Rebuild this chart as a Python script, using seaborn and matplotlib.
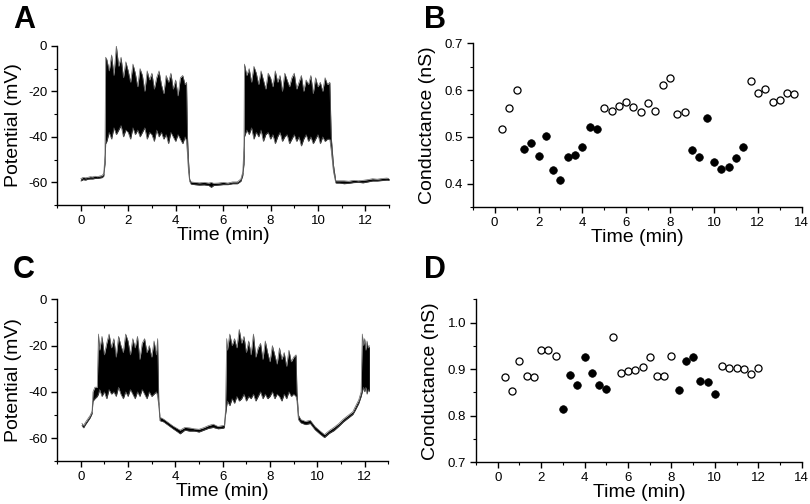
import matplotlib
matplotlib.use("Agg")
import pandas as pd
import seaborn as sns
import matplotlib.pyplot as plt
from matplotlib.ticker import MultipleLocator

# ---- panel A : membrane potential trace (upper / lower envelope) ----
a_time = ([0.00, 0.10, 0.20, 0.30, 0.40, 0.50, 0.60, 0.70, 0.80, 0.90, 0.97, 1.02, 1.05]
          + [1.10, 1.20, 1.30, 1.40, 1.50, 1.60, 1.70, 1.80, 1.90, 2.00, 2.10, 2.20,
             2.30, 2.40, 2.50, 2.60, 2.70, 2.80, 2.90, 3.00, 3.10, 3.20, 3.30, 3.40,
             3.50, 3.60, 3.70, 3.80, 3.90, 4.00, 4.10, 4.20, 4.30, 4.40]
          + [4.46, 4.50, 4.54, 4.59, 4.65, 4.80, 5.00, 5.20, 5.40, 5.50, 5.60, 5.80,
             6.00, 6.20, 6.40, 6.60, 6.75, 6.83, 6.88]
          + [6.90, 7.00, 7.10, 7.20, 7.30, 7.40, 7.50, 7.60, 7.70, 7.80, 7.90, 8.00,
             8.10, 8.20, 8.30, 8.40, 8.50, 8.60, 8.70, 8.80, 8.90, 9.00, 9.10, 9.20,
             9.30, 9.40, 9.50, 9.60, 9.70, 9.80, 9.90, 10.00, 10.10, 10.20, 10.30,
             10.40, 10.50]
          + [10.56, 10.65, 10.75, 10.90, 11.10, 11.30, 11.50, 11.70, 11.90, 12.10,
             12.30, 12.50, 12.70, 12.90, 13.00])
a_upper = ([-58.4, -57.8, -58.0, -57.8, -57.5, -57.6, -57.3, -57.5, -57.2, -57.0, -56.0, -48.0, -5.0]
           + [-6, -11, -4, -13, 0, -9, -5, -14, -7, -11, -16, -8, -12, -18, -10, -13, -20,
              -11, -15, -12, -19, -14, -11, -17, -21, -13, -16, -12, -19, -15, -22, -14, -13, -17]
           + [-16, -40, -50, -58.5, -59.8, -60.0, -60.2, -60.0, -60.3, -60.0, -60.4, -60.3,
              -60.0, -60.3, -59.8, -59.8, -58.5, -55.5, -44.0]
           + [-8, -13, -10, -16, -9, -12, -17, -11, -15, -19, -12, -14, -18, -11, -16, -13,
              -20, -12, -15, -18, -14, -12, -19, -16, -13, -20, -15, -17, -13, -21, -14, -18,
              -16, -20, -14, -17, -16]
           + [-40, -52, -59.3, -59.3, -59.3, -59.5, -59.1, -59.3, -59.1, -58.8, -58.4, -58.6,
              -58.3, -58.1, -58.3])
a_lower = ([-59.4, -58.8, -59.0, -58.6, -58.5, -58.5, -58.3, -58.3, -58.1, -57.9, -57.2, -52.0, -43.0]
           + [-42, -38, -41, -36, -39, -37, -35, -40, -37, -38, -41, -36, -39, -37, -40, -38, -36,
              -41, -38, -39, -42, -37, -40, -38, -41, -39, -43, -38, -40, -42, -39, -41, -43, -40]
           + [-42, -48, -55, -59.5, -60.8, -61.0, -61.2, -61.1, -61.4, -62.2, -61.4, -61.2,
              -61.0, -61.0, -60.6, -60.6, -59.5, -57.0, -52.0]
           + [-40, -37, -39, -36, -41, -38, -40, -37, -42, -39, -38, -41, -39, -43, -40, -38,
              -42, -40, -39, -43, -41, -39, -42, -40, -44, -41, -39, -42, -40, -43, -41, -39,
              -43, -40, -42, -41, -41]
           + [-46, -55, -60.3, -60.3, -60.6, -60.4, -60.1, -60.0, -60.2, -59.8, -59.4, -59.4,
              -59.2, -59.0, -59.1])

# ---- panel C : membrane potential trace ----
c_time = ([0.05, 0.12, 0.20, 0.30, 0.40, 0.48, 0.52, 0.60, 0.70, 0.75]
          + [0.80, 0.90, 1.00, 1.10, 1.20, 1.30, 1.40, 1.50, 1.60, 1.70, 1.80, 1.90,
             2.00, 2.10, 2.20, 2.30, 2.40, 2.50, 2.60, 2.70, 2.80, 2.90, 3.00, 3.10, 3.20]
          + [3.25, 3.30, 3.35, 3.50, 3.70, 3.90, 4.10, 4.20, 4.40, 4.60, 4.80, 5.00,
             5.20, 5.40, 5.60, 5.80, 6.00, 6.07, 6.12, 6.17]
          + [6.20, 6.30, 6.40, 6.50, 6.60, 6.70, 6.80, 6.90, 7.00, 7.10, 7.20, 7.30,
             7.40, 7.50, 7.60, 7.70, 7.80, 7.90, 8.00, 8.10, 8.20, 8.30, 8.40, 8.50,
             8.60, 8.70, 8.80, 8.90, 9.00, 9.10]
          + [9.14, 9.20, 9.30, 9.50, 9.70, 9.90, 10.10, 10.30, 10.50, 10.70, 10.90,
             11.10, 11.30, 11.50, 11.60, 11.75, 11.85]
          + [11.90, 11.95, 12.00, 12.05, 12.10, 12.15, 12.20])
c_upper = ([-53.6, -54.6, -53.2, -51.7, -50.2, -48.4, -40, -38, -38, -15]
           + [-22, -16, -24, -19, -15, -21, -17, -25, -16, -20, -23, -15, -18, -24, -17, -21,
              -16, -26, -19, -17, -23, -20, -25, -18, -24]
           + [-17, -44, -51, -51.8, -53.3, -54.8, -56.0, -56.6, -55.4, -55.6, -56.0, -56.2,
              -55.5, -54.6, -54.0, -55.0, -54.6, -54.5, -48.0, -17]
           + [-22, -15, -20, -17, -21, -13, -19, -16, -23, -18, -24, -15, -25, -21, -19, -26,
              -18, -23, -27, -20, -24, -28, -21, -26, -23, -29, -22, -27, -25, -24]
           + [-40, -50, -52, -52.8, -52.3, -55, -56.8, -58.5, -56.8, -55.4, -53.8, -51.8,
              -50.2, -48.6, -46.5, -43.5, -40]
           + [-15, -20, -17, -22, -18, -21, -20])
c_lower = ([-54.6, -55.6, -54.2, -52.7, -51.2, -49.4, -44, -43, -42, -41]
           + [-39, -42, -40, -43, -39, -41, -40, -42, -38, -41, -43, -40, -42, -39, -41, -43,
              -40, -42, -39, -41, -43, -40, -42, -41, -40]
           + [-42, -46, -52.5, -53.0, -54.5, -56.0, -57.4, -58.2, -56.6, -57.0, -57.0, -57.4,
              -56.6, -55.8, -55.4, -56.0, -55.8, -55.5, -50.0, -46]
           + [-44, -46, -43, -45, -42, -44, -43, -41, -44, -42, -43, -41, -44, -42, -40, -43,
              -41, -43, -42, -40, -43, -41, -42, -44, -41, -43, -40, -42, -41, -42]
           + [-44, -52, -53.4, -54.2, -53.7, -56.4, -58.2, -59.8, -58.0, -56.8, -55.0, -53.0,
              -51.4, -49.8, -48.0, -45.0, -42.0]
           + [-40, -38, -40, -38, -41, -39, -40])

# ---- panel B : conductance ----
b_open_t = [0.33, 0.67, 1.0, 5.0, 5.33, 5.67, 6.0, 6.33, 6.67, 7.0, 7.33, 7.67, 8.0,
            8.33, 8.67, 11.67, 12.0, 12.33, 12.67, 13.0, 13.33, 13.67]
b_open_g = [0.518, 0.562, 0.600, 0.562, 0.555, 0.566, 0.574, 0.564, 0.554, 0.572, 0.556,
            0.611, 0.625, 0.548, 0.554, 0.619, 0.593, 0.603, 0.574, 0.579, 0.593, 0.592]
b_fill_t = [1.33, 1.67, 2.0, 2.33, 2.67, 3.0, 3.33, 3.67, 4.0, 4.33, 4.67,
            9.0, 9.33, 9.67, 10.0, 10.33, 10.67, 11.0, 11.33]
b_fill_g = [0.475, 0.486, 0.460, 0.503, 0.429, 0.408, 0.457, 0.462, 0.479, 0.522, 0.517,
            0.472, 0.457, 0.541, 0.447, 0.432, 0.435, 0.455, 0.479]

# ---- panel D : conductance ----
d_open_t = [0.33, 0.67, 1.0, 1.33, 1.67, 2.0, 2.33, 2.67, 5.33, 5.67, 6.0, 6.33, 6.67,
            7.0, 7.33, 7.67, 8.0, 10.33, 10.67, 11.0, 11.33, 11.67, 12.0]
d_open_g = [0.884, 0.854, 0.918, 0.885, 0.883, 0.941, 0.941, 0.929, 0.969, 0.891, 0.896,
            0.898, 0.905, 0.926, 0.885, 0.886, 0.929, 0.907, 0.903, 0.903, 0.900, 0.890, 0.903]
d_fill_t = [3.0, 3.33, 3.67, 4.0, 4.33, 4.67, 5.0, 8.33, 8.67, 9.0, 9.33, 9.67, 10.0]
d_fill_g = [0.815, 0.888, 0.865, 0.926, 0.891, 0.866, 0.858, 0.855, 0.918, 0.926, 0.875,
            0.872, 0.847]

sns.set_style("ticks")
plt.rcParams['font.family'] = ['Liberation Sans', 'DejaVu Sans']
plt.rcParams.update({'axes.linewidth': 1.0, 'axes.edgecolor': 'black', 'text.color': 'black',
                     'axes.labelcolor': 'black', 'xtick.color': 'black', 'ytick.color': 'black'})

fig = plt.figure(figsize=(8.1, 5.04), dpi=100)
axA = fig.add_axes([0.0704, 0.593, 0.410, 0.316])
axB = fig.add_axes([0.5836, 0.589, 0.4062, 0.325])
axC = fig.add_axes([0.0704, 0.085, 0.409, 0.321])
axD = fig.add_axes([0.5877, 0.083, 0.4021, 0.323])


def trace(ax, t, up, lo):
    df = pd.DataFrame({'t': t, 'up': up, 'lo': lo})
    ax.fill_between(df['t'], df['lo'], df['up'], color='black', lw=0)
    sns.lineplot(x='t', y='up', data=df, ax=ax, color='0.4', lw=0.5, sort=False, estimator=None)
    sns.lineplot(x='t', y='lo', data=df, ax=ax, color='0.3', lw=0.5, sort=False, estimator=None)
    ax.set_xlim(-1, 13)
    ax.set_ylim(-70, 0)
    ax.xaxis.set_major_locator(MultipleLocator(2))
    ax.xaxis.set_minor_locator(MultipleLocator(1))
    ax.yaxis.set_major_locator(MultipleLocator(20))
    ax.yaxis.set_minor_locator(MultipleLocator(10))
    ax.yaxis.set_major_formatter(plt.FuncFormatter(lambda v, p: '%g' % v))
    ax.set_ylabel('Potential (mV)', fontsize=14, labelpad=4)


def cond(ax, ot, og, ft, fg):
    sns.scatterplot(x=ot, y=og, ax=ax, s=26, facecolor='white', edgecolor='black', linewidth=0.9)
    sns.scatterplot(x=ft, y=fg, ax=ax, s=30, color='black', edgecolor='black', linewidth=0.5)
    ax.set_xlim(-1, 14)
    ax.xaxis.set_major_locator(MultipleLocator(2))
    ax.xaxis.set_minor_locator(MultipleLocator(1))
    ax.yaxis.set_major_locator(MultipleLocator(0.1))
    ax.yaxis.set_minor_locator(MultipleLocator(0.05))
    ax.yaxis.set_major_formatter(plt.FormatStrFormatter('%.1f'))
    ax.set_ylabel('Conductance (nS)', fontsize=14, labelpad=6)


trace(axA, a_time, a_upper, a_lower)
trace(axC, c_time, c_upper, c_lower)
cond(axB, b_open_t, b_open_g, b_fill_t, b_fill_g)
axB.set_ylim(0.35, 0.7)
cond(axD, d_open_t, d_open_g, d_fill_t, d_fill_g)
axD.set_ylim(0.7, 1.05)

for ax in (axA, axB, axC, axD):
    sns.despine(ax=ax)
    ax.set_xlabel('Time (min)', fontsize=14, labelpad=0)
    ax.tick_params(which='major', direction='out', length=4, width=1, labelsize=9.5, pad=3)
    ax.tick_params(which='minor', direction='out', length=2, width=0.8)

for lab, x, y in [('A', 0.016, 0.944), ('B', 0.523, 0.944), ('C', 0.016, 0.448), ('D', 0.523, 0.448)]:
    fig.text(x, y, lab, fontsize=22, fontweight='bold', va='baseline')

fig.savefig('out.png', dpi=100)
